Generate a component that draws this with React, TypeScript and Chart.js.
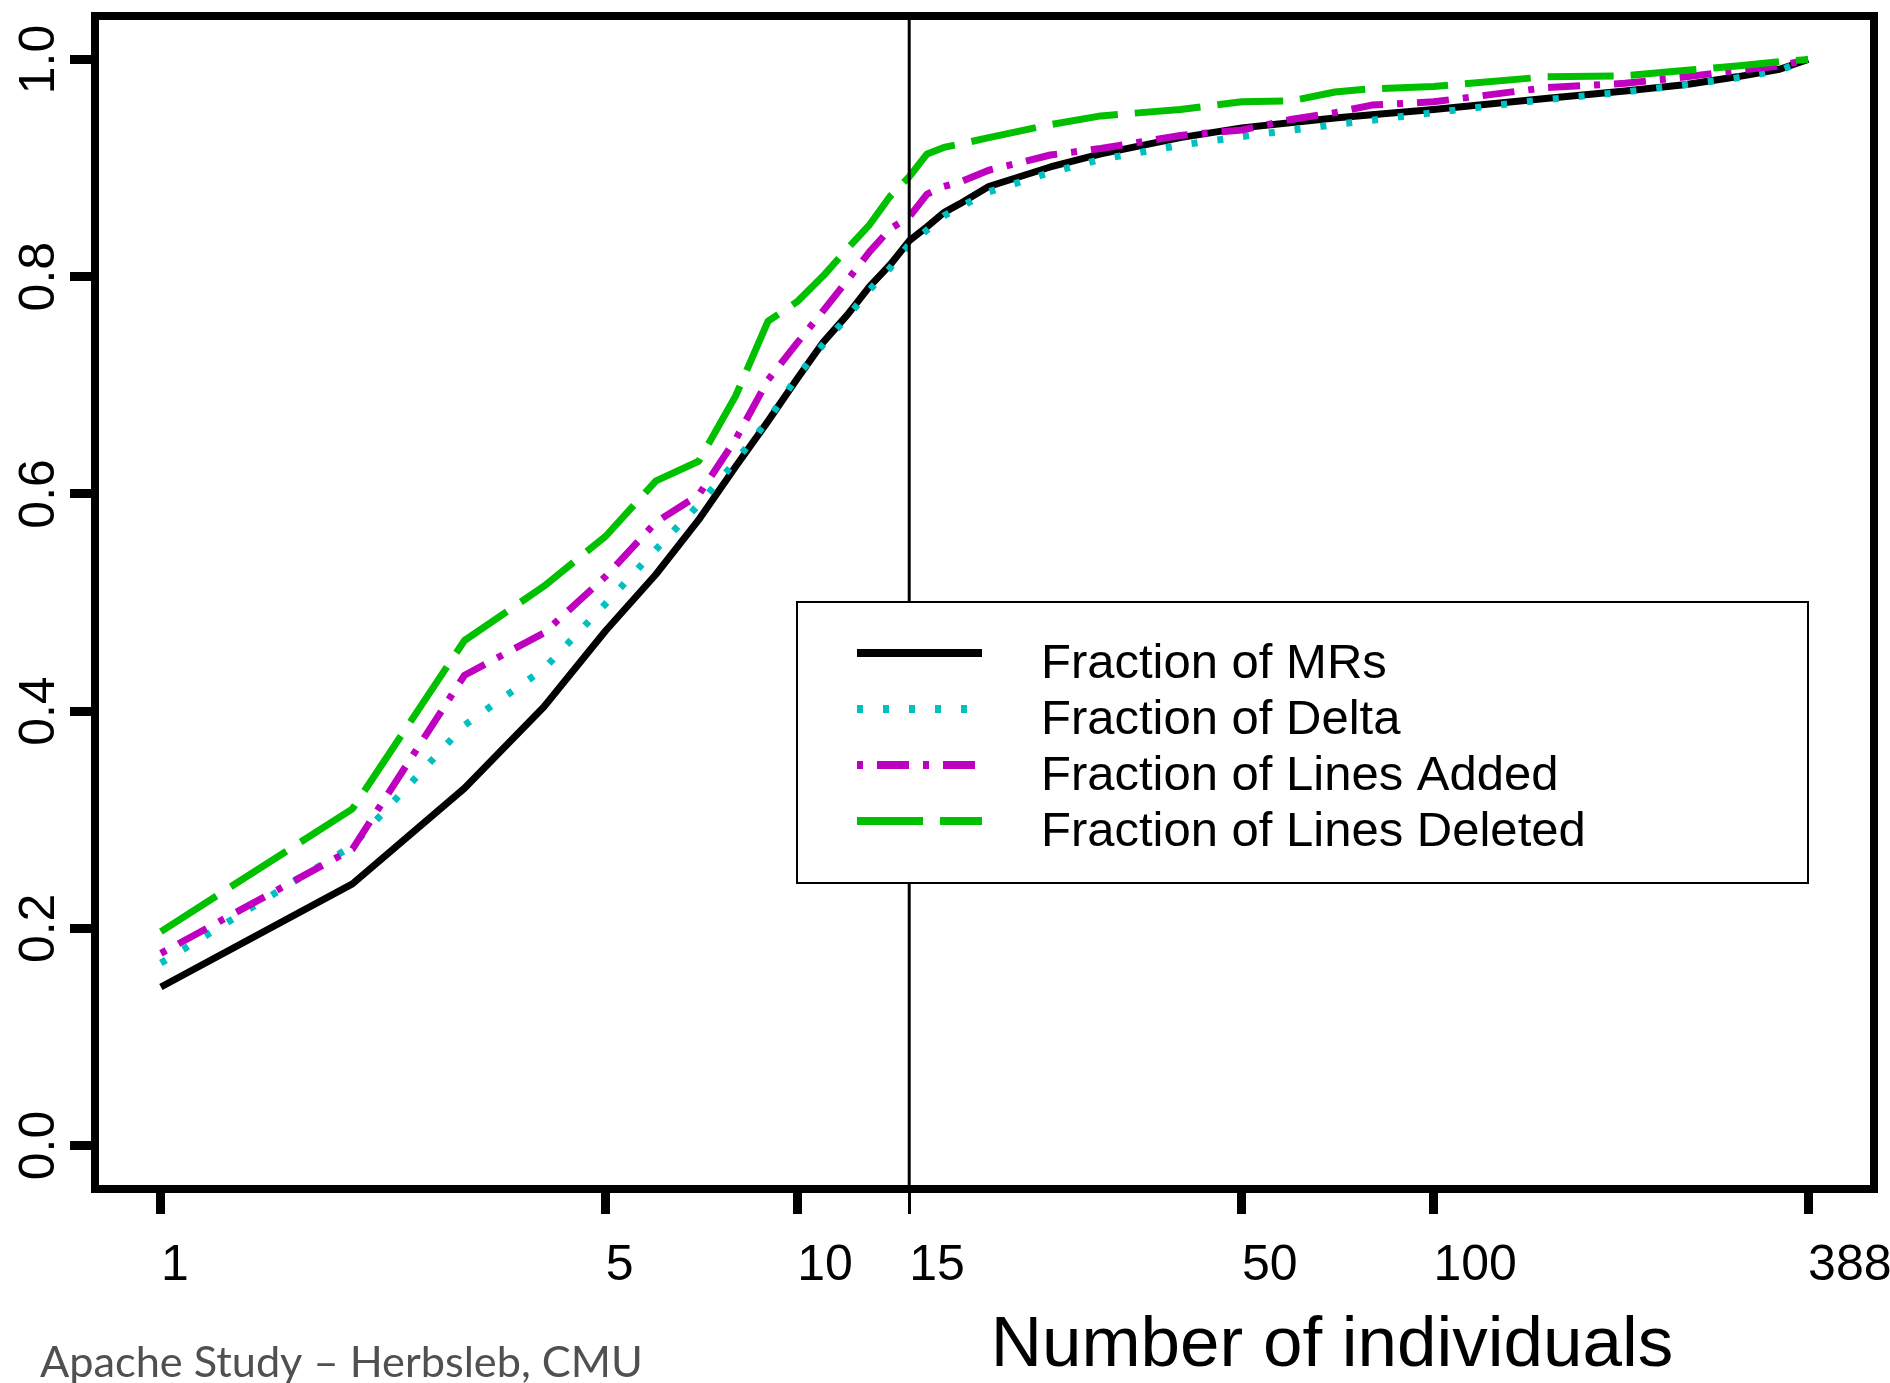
import React, { useEffect, useRef } from "react";
import { Chart, registerables } from "chart.js";

Chart.register(...registerables);

// ---- data ----
const INDIVIDUALS = [1, 2, 3, 4, 5, 6, 7, 8, 9, 10, 11, 12, 13, 14, 15, 16, 17, 18, 20, 25, 30, 40, 50, 60, 70, 80, 100, 150, 200, 250, 300, 350, 388];
const FRACTION_MRS = [0.146, 0.241, 0.329, 0.404, 0.474, 0.526, 0.576, 0.625, 0.667, 0.706, 0.74, 0.765, 0.791, 0.811, 0.833, 0.846, 0.859, 0.867, 0.883, 0.901, 0.913, 0.928, 0.937, 0.942, 0.946, 0.949, 0.954, 0.964, 0.971, 0.977, 0.984, 0.991, 1.0];
const FRACTION_DELTA = [0.168, 0.276, 0.387, 0.439, 0.499, 0.549, 0.59, 0.63, 0.668, 0.708, 0.738, 0.763, 0.788, 0.808, 0.83, 0.843, 0.856, 0.864, 0.878, 0.896, 0.908, 0.921, 0.929, 0.935, 0.94, 0.944, 0.951, 0.963, 0.97, 0.977, 0.983, 0.99, 1.0];
const FRACTION_ADDED = [0.177, 0.273, 0.433, 0.472, 0.524, 0.574, 0.599, 0.65, 0.705, 0.739, 0.769, 0.797, 0.823, 0.844, 0.855, 0.876, 0.883, 0.887, 0.898, 0.912, 0.918, 0.93, 0.935, 0.945, 0.951, 0.958, 0.961, 0.974, 0.978, 0.984, 0.99, 0.994, 1.0];
const FRACTION_DELETED = [0.197, 0.31, 0.465, 0.515, 0.561, 0.612, 0.63, 0.69, 0.759, 0.777, 0.801, 0.826, 0.848, 0.874, 0.892, 0.913, 0.919, 0.922, 0.928, 0.94, 0.948, 0.954, 0.961, 0.962, 0.97, 0.973, 0.975, 0.984, 0.985, 0.99, 0.994, 0.998, 1.0];

const SERIES_LABELS = ["Fraction of MRs", "Fraction of Delta", "Fraction of Lines Added", "Fraction of Lines Deleted"];
const X_TICKS = [1, 5, 10, 15, 50, 100, 388];
const Y_TICKS = [0, 0.2, 0.4, 0.6, 0.8, 1.0];
const CUTOFF = 15;
const X_TITLE = "Number of individuals";
const FOOTNOTE = "Apache Study \u2013 Herbsleb, CMU";

const FONT = "'Liberation Sans', Arial, Helvetica, sans-serif";

const COLORS = ["#000000", "#00C0C0", "#C000C0", "#00C000"];
const DASHES: number[][] = [[], [6, 20], [6, 14, 32, 14], [66, 17]];

const W = 1890;
const H = 1383;

const pts = (ys: number[]) => INDIVIDUALS.map((n, i) => ({ x: n, y: ys[i] }));

const decorPlugin = {
  id: "decor",
  afterDatasetsDraw(chart: any) {
    const { ctx, chartArea } = chart;
    const xs = chart.scales.x;
    // vertical cut-off line
    const xc = xs.getPixelForValue(CUTOFF);
    ctx.save();
    ctx.strokeStyle = "#000";
    ctx.lineWidth = 3;
    ctx.setLineDash([]);
    ctx.beginPath();
    ctx.moveTo(xc, chartArea.top);
    ctx.lineTo(xc, chartArea.bottom);
    ctx.stroke();

    // legend
    const bx1 = 797, by1 = 602, bx2 = 1808, by2 = 883;
    ctx.fillStyle = "#fff";
    ctx.fillRect(bx1, by1, bx2 - bx1, by2 - by1);
    ctx.lineWidth = 2;
    ctx.strokeStyle = "#000";
    ctx.strokeRect(bx1, by1, bx2 - bx1, by2 - by1);
    chart.data.datasets.forEach((ds: any, i: number) => {
      const y = 653 + i * 56;
      ctx.save();
      ctx.strokeStyle = ds.borderColor;
      ctx.lineWidth = 8;
      ctx.lineCap = "butt";
      ctx.setLineDash(ds.borderDash || []);
      ctx.beginPath();
      ctx.moveTo(857, y);
      ctx.lineTo(982, y);
      ctx.stroke();
      ctx.restore();
      ctx.fillStyle = "#000";
      ctx.font = `49px ${FONT}`;
      ctx.textAlign = "left";
      ctx.textBaseline = "alphabetic";
      ctx.fillText(ds.label, 1041, y + 25);
    });

    // plot box
    ctx.lineWidth = 8;
    ctx.strokeStyle = "#000";
    ctx.strokeRect(chartArea.left, chartArea.top, chartArea.right - chartArea.left, chartArea.bottom - chartArea.top);
    ctx.restore();
  },
  afterDraw(chart: any) {
    const { ctx } = chart;
    const ys = chart.scales.y;
    ctx.save();
    // rotated y tick labels
    ctx.fillStyle = "#000";
    ctx.font = `50px ${FONT}`;
    Y_TICKS.forEach((v) => {
      const yp = ys.getPixelForValue(v);
      ctx.save();
      ctx.translate(54, yp);
      ctx.rotate(-Math.PI / 2);
      ctx.textAlign = "center";
      ctx.textBaseline = "alphabetic";
      ctx.fillText(v.toFixed(1), 0, 0);
      ctx.restore();
    });
    // x title
    ctx.font = `71px ${FONT}`;
    ctx.textAlign = "center";
    ctx.textBaseline = "alphabetic";
    ctx.fillText(X_TITLE, 1332, 1366);
    // footnote
    ctx.fillStyle = "#505050";
    ctx.font = `44px Lato, 'Open Sans', sans-serif`;
    const w = ctx.measureText(FOOTNOTE).width;
    const size = 44 * 603 / w;
    ctx.font = `${size}px Lato, 'Open Sans', sans-serif`;
    ctx.textAlign = "left";
    ctx.fillText(FOOTNOTE, 40, 1377);
    ctx.restore();
  },
};

export default function App() {
  const ref = useRef<HTMLCanvasElement | null>(null);
  useEffect(() => {
    if (!ref.current) return;
    const seriesValues = [FRACTION_MRS, FRACTION_DELTA, FRACTION_ADDED, FRACTION_DELETED];
    const chart = new Chart(ref.current, {
      type: "line",
      data: {
        datasets: seriesValues.map((vals, i) => ({
          label: SERIES_LABELS[i],
          data: pts(vals),
          borderColor: COLORS[i],
          backgroundColor: COLORS[i],
          borderWidth: 7,
          borderDash: DASHES[i],
          borderCapStyle: "butt",
          borderJoinStyle: "round",
          pointRadius: 0,
          tension: 0,
          fill: false,
          order: 4 - i,
        })),
      },
      options: {
        animation: false,
        responsive: false,
        devicePixelRatio: 1,
        layout: { padding: { left: 0, top: 16, right: 16, bottom: 0 } },
        plugins: { legend: { display: false }, tooltip: { enabled: false }, title: { display: false } },
        scales: {
          x: {
            type: "logarithmic",
            min: Math.pow(388, -0.04),
            max: Math.pow(388, 1.04),
            afterBuildTicks: (s: any) => {
              s.ticks = X_TICKS.map((v) => ({ value: v }));
            },
            afterFit: (s: any) => {
              s.height = 194;
              s.paddingLeft = 0;
              s.paddingRight = 0;
              s.paddingTop = 0;
              s.paddingBottom = 0;
            },
            ticks: {
              autoSkip: false,
              maxRotation: 0,
              minRotation: 0,
              align: "start",
              padding: 22,
              color: "#000",
              font: { family: FONT, size: 50 },
              callback: (v: any) => String(v),
            },
            grid: {
              drawOnChartArea: false,
              drawTicks: true,
              tickLength: 25,
              tickColor: "#000",
              tickWidth: (c: any) => (c.tick && c.tick.value === CUTOFF ? 3 : 9),
            },
            border: { display: false },
          },
          y: {
            type: "linear",
            min: -0.04,
            max: 1.04,
            afterBuildTicks: (s: any) => {
              s.ticks = Y_TICKS.map((v) => ({ value: v }));
            },
            afterFit: (s: any) => {
              s.width = 95;
              s.paddingLeft = 0;
              s.paddingRight = 0;
              s.paddingTop = 0;
              s.paddingBottom = 0;
            },
            ticks: { display: false },
            grid: {
              drawOnChartArea: false,
              drawTicks: true,
              tickLength: 25,
              tickColor: "#000",
              tickWidth: 9,
            },
            border: { display: false },
          },
        },
      },
      plugins: [decorPlugin],
    } as any);
    return () => chart.destroy();
  }, []);
  return (
    <div style={{ position: "absolute", left: 0, top: 0, width: W, height: H, background: "#fff" }}>
      <canvas ref={ref} width={W} height={H} style={{ display: "block", width: W, height: H }} />
    </div>
  );
}
